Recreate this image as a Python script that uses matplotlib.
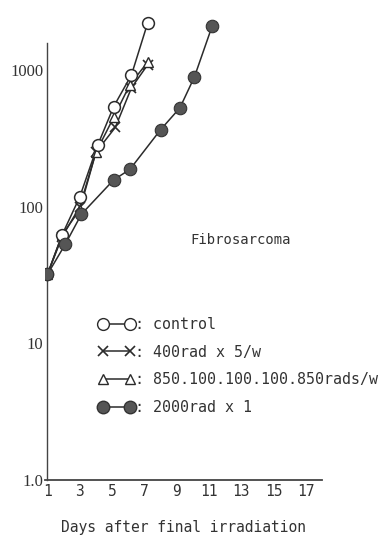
import matplotlib
matplotlib.use("Agg")
import matplotlib.pyplot as plt
from matplotlib.lines import Line2D

# tumour volume (mm3) vs days after final irradiation
ctrl_days = [1, 1.9, 3.0, 4.1, 5.1, 6.2, 7.2]
ctrl_vol = [32, 62, 118, 280, 540, 920, 2200]

x400_days = [1, 1.9, 3.0, 4.0, 5.2, 6.2, 7.2]
x400_vol = [32, 60, 100, 250, 380, 740, 1090]

tri_days = [1, 1.9, 3.0, 4.0, 5.1, 6.1, 7.2]
tri_vol = [32, 62, 95, 250, 450, 780, 1140]

single_days = [1, 2.1, 3.1, 5.1, 6.1, 8.0, 9.2, 10.1, 11.2]
single_vol = [32, 53, 88, 157, 187, 365, 528, 890, 2100]

xticks = [1, 3, 5, 7, 9, 11, 13, 15, 17]
yticks = [1, 10, 100, 1000]
ylabels = ["1.0", "10", "100", "1000"]

legend_labels = [": control", ": 400rad x 5/w",
                 ": 850.100.100.100.850rads/w", ": 2000rad x 1"]

ink = "#2b2b2b"
mono = "DejaVu Sans Mono"

fig = plt.figure(figsize=(3.82, 5.39), dpi=100)
ax = fig.add_axes([0.118, 0.1095, 0.725, 0.881])

ax.plot(x400_days, x400_vol, "-", color=ink, lw=1.1, marker="x",
        ms=7.5, mew=1.2, zorder=3)
ax.plot(tri_days, tri_vol, "-", color=ink, lw=1.1, marker="^", ms=7.5,
        mfc="white", mec=ink, mew=1.0, zorder=3)
ax.plot(ctrl_days, ctrl_vol, "-", color=ink, lw=1.1, marker="o", ms=8.5,
        mfc="white", mec=ink, mew=1.1, zorder=4)
ax.plot(single_days, single_vol, "-", color=ink, lw=1.1, marker="o", ms=9,
        mfc="#555555", mec="#333333", mew=0.8, zorder=4)

ax.set_yscale("log")
ax.set_xlim(0.85, 18)
ax.set_ylim(1, 2980)
ax.spines["top"].set_visible(False)
ax.spines["right"].set_visible(False)
ax.spines["left"].set_bounds(1, 1575)
ax.spines["left"].set_position(("data", 1))
ax.spines["left"].set_color("#444444")
ax.spines["bottom"].set_color("#444444")
ax.spines["left"].set_linewidth(1.0)
ax.spines["bottom"].set_linewidth(1.3)

ax.set_xticks(xticks)
ax.set_xticklabels([str(t) for t in xticks], family=mono, fontsize=10.5,
                   color="#333333")
ax.set_yticks(yticks)
ax.set_yticklabels(ylabels, family="Liberation Serif", fontsize=12,
                   color="#333333")
ax.yaxis.set_minor_locator(matplotlib.ticker.NullLocator())
ax.tick_params(length=0, pad=3)

ax.set_xlabel("Days after final irradiation", family=mono, fontsize=10.5,
              color="#333333", labelpad=15)

ax.text(0.523, 0.505, "Fibrosarcoma", transform=ax.transAxes, family=mono,
        fontsize=10, color="#333333", va="center")

handles = [
    Line2D([], [], color=ink, lw=1.1, marker="o", ms=8.5, mfc="white", mec=ink),
    Line2D([], [], color=ink, lw=1.1, marker="x", ms=7.5, mew=1.2),
    Line2D([], [], color=ink, lw=1.1, marker="^", ms=7.5, mfc="white", mec=ink),
    Line2D([], [], color=ink, lw=1.1, marker="o", ms=9, mfc="#555555",
           mec="#333333"),
]
leg = ax.legend(handles, legend_labels, loc="upper left",
                bbox_to_anchor=(0.145, 0.372), frameon=False, numpoints=2,
                handlelength=2.4, handletextpad=0.05, labelspacing=0.85,
                prop={"family": mono, "size": 10.8})
for t in leg.get_texts():
    t.set_color("#333333")

fig.savefig("out.png", dpi=100)
